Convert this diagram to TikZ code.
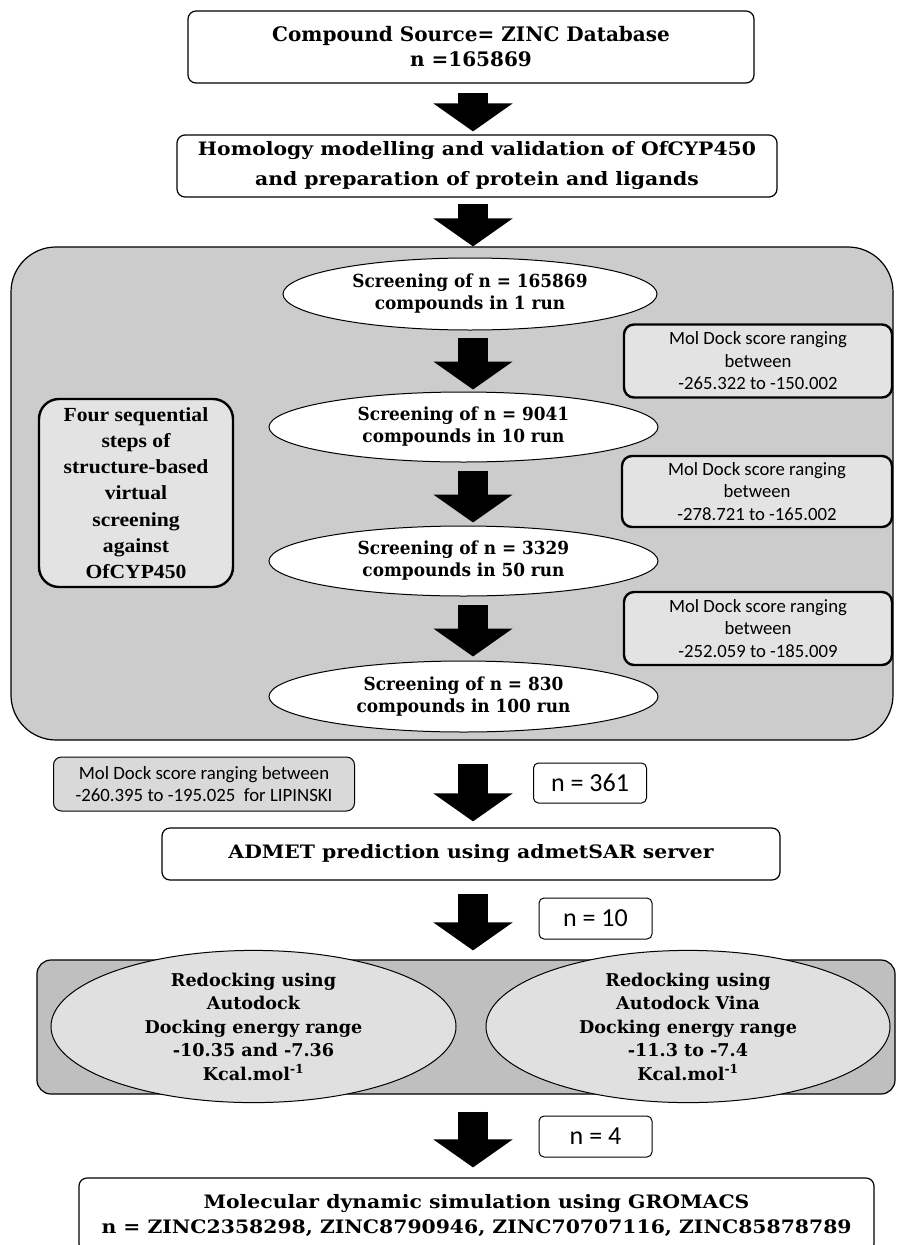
\documentclass[tikz,border=0pt]{standalone}
\usepackage{fontspec}
\setmainfont{DejaVu Serif}
\newfontfamily\bk{DejaVu Serif}
\newfontfamily\bkx[FakeStretch=1.1]{DejaVu Serif}
\newfontfamily\bkn[FakeStretch=0.94]{DejaVu Serif}
\newfontfamily\tms[FakeStretch=1.08]{Liberation Serif}
\newfontfamily\calfont{Carlito}
\usetikzlibrary{shapes.geometric,arrows.meta}
\newcommand\fs[2]{\fontsize{#1}{#2}\selectfont}
\definecolor{panelgray}{gray}{0.80}
\definecolor{notegray}{gray}{0.89}
\definecolor{lipgray}{gray}{0.85}
\definecolor{panelgrayB}{gray}{0.75}
\definecolor{ellgray}{gray}{0.88}
\tikzset{
  x=1pt,y=-1pt,
  box/.style={draw,rounded corners=8pt,fill=white,line width=1.2pt,align=center,inner sep=0pt},
  ell/.style={ellipse,draw,fill=white,line width=1pt,align=center,inner sep=0pt,font=\bkn\bfseries\fs{18}{22}},
  note/.style={draw,rounded corners=10pt,line width=2.4pt,fill=notegray,align=center,inner sep=0pt},
  nbox/.style={draw,rounded corners=5pt,fill=white,line width=1pt,align=center,inner sep=0pt,minimum width=113pt,minimum height=41pt,font=\calfont\fs{26}{26}},
  bigarrow/.style={line width=30pt,-{Triangle[width=78pt,length=28pt]}},
  sans/.style={font=\calfont\fs{18.7}{22.5}},
  bigserif/.style={font=\bkx\bfseries\fs{18.5}{25}}
}
\begin{document}
\begin{tikzpicture}
\path[use as bounding box,clip] (0,0) rectangle (897,1245);
\fill[white] (0,0) rectangle (897,1245);
\coordinate (ax) at (473,0);

% top boxes
\node[box,font=\bk\bfseries\fs{20}{25},minimum width=566pt,minimum height=72pt] (b1) at (471,47) {Compound Source= ZINC Database\\n =165869};
\node[box,font=\bkx\bfseries\fs{18.5}{30},minimum width=600pt,minimum height=62pt] (b2) at (477,166) {Homology modelling and validation of OfCYP450\\and preparation of protein and ligands};

% big panel
\node[draw,fill=panelgray,rounded corners=45pt,line width=1.2pt,minimum width=882pt,minimum height=493pt,inner sep=0pt] (panel) at (452,493.5) {};

\node[ell,minimum width=374pt,minimum height=72pt] (e1) at (470,294) {Screening of n = 165869\\compounds in 1 run};
\node[ell,minimum width=389pt,minimum height=70pt] (e2) at (463.5,427) {Screening of n = 9041\\compounds in 10 run};
\node[ell,minimum width=389pt,minimum height=70pt] (e3) at (463.5,561) {Screening of n = 3329\\compounds in 50 run};
\node[ell,minimum width=389pt,minimum height=71pt] (e4) at (463.5,696.5) {Screening of n = 830\\compounds in 100 run};

\node[note,sans,minimum width=268pt,minimum height=73pt] (r1) at (758,361) {Mol Dock score ranging\\between\\ -265.322 to -150.002};
\node[note,sans,minimum width=270pt,minimum height=71pt] (r2) at (757,491.5) {Mol Dock score ranging\\between\\-278.721 to -165.002};
\node[note,sans,minimum width=268pt,minimum height=73pt] (r3) at (758,628.5) {Mol Dock score ranging\\between\\-252.059 to -185.009};

\node[note,rounded corners=20pt,font=\tms\bfseries\fs{20}{26.2},minimum width=194pt,minimum height=188pt] (lft) at (136,493) {Four sequential\\steps of\\structure-based\\virtual\\screening\\against\\OfCYP450};

\draw[bigarrow,shorten <=9pt,shorten >=3pt] (b1.south -| ax) -- (b2.north -| ax);
\draw[bigarrow,shorten <=6pt] (b2.south -| ax) -- (panel.north -| ax);
\draw[bigarrow,shorten <=7pt,shorten >=2pt] (e1.south -| ax) -- (e2.north -| ax);
\draw[bigarrow,shorten <=8pt,shorten >=3pt] (e2.south -| ax) -- (e3.north -| ax);
\draw[bigarrow,shorten <=8pt,shorten >=4pt] (e3.south -| ax) -- (e4.north -| ax);

% middle
\node[draw,rounded corners=8pt,fill=lipgray,line width=1pt,align=center,inner sep=0pt,font=\calfont\fs{18.8}{22},minimum width=301pt,minimum height=54pt] (lip) at (204,784) {Mol Dock score ranging between\\-260.395 to -195.025\ \ for LIPINSKI};
\node[nbox,minimum height=40pt] (n361) at (590,783) {n = 361};
\node[box,bigserif,minimum width=618pt,minimum height=52pt] (admet) at (471,854) {ADMET prediction using admetSAR server};
\node[nbox] (n10) at (595.5,918.5) {n = 10};

% bottom panel
\node[draw,fill=panelgrayB,rounded corners=14pt,line width=1.2pt,minimum width=858pt,minimum height=134pt,inner sep=0pt] (panel2) at (466,1027) {};
\node[ell,fill=ellgray,font=\bk\bfseries\fs{17.6}{23.5},minimum width=405pt,minimum height=129pt] (eL) at (253.5,1026.5) {Redocking using\\Autodock\\Docking energy range\\-10.35 and -7.36\\Kcal.mol\textsuperscript{-1}};
\node[ell,fill=ellgray,font=\bk\bfseries\fs{17.6}{23.5},minimum width=404pt,minimum height=129pt] (eR) at (688,1026.5) {Redocking using\\Autodock Vina\\Docking energy range\\-11.3 to -7.4\\Kcal.mol\textsuperscript{-1}};

\node[nbox] (n4) at (595.5,1136.5) {n = 4};
\node[box,bigserif,minimum width=795pt,minimum height=74pt] (fin) at (476.5,1215) {Molecular dynamic simulation using GROMACS\\n = ZINC2358298, ZINC8790946, ZINC70707116, ZINC85878789};

\draw[bigarrow,shorten <=23pt,shorten >=6pt] (panel.south -| ax) -- (admet.north -| ax);
\draw[bigarrow,shorten <=13pt,shorten >=9pt] (admet.south -| ax) -- (panel2.north -| ax);
\draw[bigarrow,shorten <=17pt,shorten >=10pt] (panel2.south -| ax) -- (fin.north -| ax);
\end{tikzpicture}
\end{document}
